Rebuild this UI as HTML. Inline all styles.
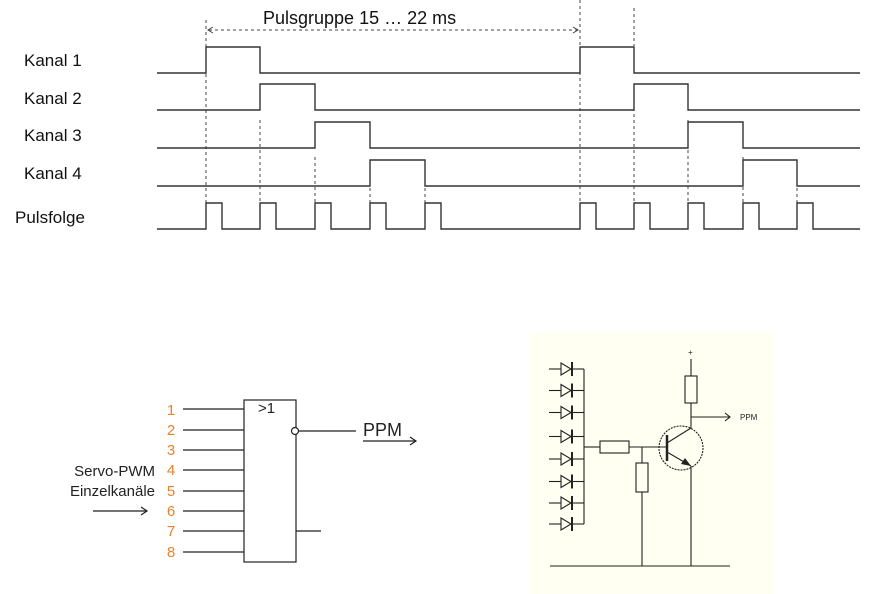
<!DOCTYPE html>
<html><head><meta charset="utf-8"><style>
html,body{margin:0;padding:0;background:#fff;width:872px;height:594px;overflow:hidden}
svg{display:block}
text{font-family:"Liberation Sans",Arial,sans-serif}
</style></head><body>
<svg width="872" height="594" viewBox="0 0 872 594" xmlns="http://www.w3.org/2000/svg">
<g fill="#111" font-size="17">
<text x="24" y="66">Kanal 1</text>
<text x="24" y="104">Kanal 2</text>
<text x="24" y="141">Kanal 3</text>
<text x="24" y="179">Kanal 4</text>
<text x="15" y="223">Pulsfolge</text>
<text x="263" y="24" font-size="18">Pulsgruppe 15 … 22 ms</text>
</g>
<g stroke="#444" stroke-width="1" stroke-dasharray="3,3" fill="none">
<line x1="209" y1="30" x2="577" y2="30"/>
<line x1="206" y1="20" x2="206" y2="203"/>
<line x1="580" y1="0" x2="580" y2="203"/>
<line x1="634" y1="8" x2="634" y2="46"/>
<line x1="634" y1="84" x2="634" y2="203"/>
<line x1="260" y1="120" x2="260" y2="203"/>
<line x1="315" y1="157" x2="315" y2="203"/>
<line x1="370" y1="188" x2="370" y2="203"/>
<line x1="425" y1="188" x2="425" y2="203"/>
<line x1="688" y1="120" x2="688" y2="203"/>
<line x1="743" y1="157" x2="743" y2="203"/>
<line x1="797" y1="188" x2="797" y2="203"/>
</g>
<g stroke="#444" fill="none" stroke-width="1">
<polyline points="213,27 208,30 213,33"/>
<polyline points="573,27 578,30 573,33"/>
</g>
<g stroke="#333" stroke-width="1.4" fill="none">
<polyline points="157,73 206,73 206,47 260,47 260,73 580,73 580,47 634,47 634,73 860,73"/>
<polyline points="157,110 260,110 260,84 315,84 315,110 634,110 634,84 688,84 688,110 860,110"/>
<polyline points="157,148 315,148 315,122 370,122 370,148 688,148 688,122 743,122 743,148 860,148"/>
<polyline points="157,186 370,186 370,160 425,160 425,186 743,186 743,160 797,160 797,186 860,186"/>
<polyline points="157,229 206,229 206,203 222,203 222,229 260,229 260,203 276,203 276,229 315,229 315,203 331,203 331,229 370,229 370,203 386,203 386,229 425,229 425,203 441,203 441,229 580,229 580,203 596,203 596,229 634,229 634,203 650,203 650,229 688,229 688,203 704,203 704,229 743,229 743,203 759,203 759,229 797,229 797,203 813,203 813,229 860,229"/>
</g>
<!-- gate -->
<g stroke="#222" stroke-width="1.2" fill="none">
<rect x="244" y="400" width="52" height="162"/>
<line x1="183" y1="409" x2="244" y2="409"/>
<line x1="183" y1="430" x2="244" y2="430"/>
<line x1="183" y1="450" x2="244" y2="450"/>
<line x1="183" y1="470" x2="244" y2="470"/>
<line x1="183" y1="491" x2="244" y2="491"/>
<line x1="183" y1="511" x2="244" y2="511"/>
<line x1="183" y1="531" x2="244" y2="531"/>
<line x1="183" y1="552" x2="244" y2="552"/>
<circle cx="295" cy="431" r="3.5" fill="#fff"/>
<line x1="299" y1="431" x2="356" y2="431"/>
<line x1="296" y1="531" x2="321" y2="531"/>
<line x1="363" y1="441" x2="416" y2="441"/>
<polyline points="410,437 416,441 410,445"/>
<line x1="93" y1="511" x2="147" y2="511"/>
<polyline points="141,507 147,511 141,515"/>
</g>
<g fill="#e8822e" font-size="15" text-anchor="middle">
<text x="171" y="415">1</text><text x="171" y="435">2</text><text x="171" y="455">3</text><text x="171" y="475">4</text>
<text x="171" y="496">5</text><text x="171" y="516">6</text><text x="171" y="536">7</text><text x="171" y="557">8</text>
</g>
<g fill="#222" font-size="15">
<text x="155" y="476" text-anchor="end">Servo-PWM</text>
<text x="155" y="496" text-anchor="end">Einzelkanäle</text>
<text x="258" y="413">&gt;1</text>
<text x="363" y="436" font-size="18">PPM</text>
</g>
<!-- circuit -->
<rect x="530" y="332" width="243" height="262" fill="#fffff2"/>
<g stroke="#222" stroke-width="1.1" fill="none">
<g id="d">
<line x1="549" y1="369" x2="561" y2="369"/>
<polygon points="561,363 561,375 571,369"/>
<line x1="572" y1="362" x2="572" y2="376" stroke-width="2"/>
<line x1="572" y1="369" x2="584" y2="369"/>
</g>
<use href="#d" y="21.5"/><use href="#d" y="43.5"/><use href="#d" y="67.5"/>
<use href="#d" y="90"/><use href="#d" y="112.5"/><use href="#d" y="134"/><use href="#d" y="155"/>
<line x1="584" y1="369" x2="584" y2="524"/>
<line x1="584" y1="447" x2="600" y2="447"/>
<rect x="600" y="441" width="29" height="12"/>
<line x1="629" y1="447" x2="667" y2="447"/>
<line x1="642" y1="447" x2="642" y2="463"/>
<rect x="636" y="463" width="12" height="29"/>
<line x1="642" y1="492" x2="642" y2="566"/>
<line x1="550" y1="566" x2="730" y2="566"/>
<circle cx="681" cy="448" r="22" stroke-dasharray="2,1"/>
<line x1="667" y1="435" x2="667" y2="461" stroke-width="2.5"/>
<line x1="667" y1="443" x2="691" y2="428"/>
<line x1="691" y1="428" x2="691" y2="403"/>
<rect x="685" y="376" width="12" height="27"/>
<line x1="691" y1="376" x2="691" y2="359"/>
<line x1="691" y1="417" x2="730" y2="417"/>
<polyline points="725,413 730,417 725,421"/>
<line x1="667" y1="452" x2="691" y2="466"/>
<line x1="691" y1="466" x2="691" y2="566"/>
</g>
<polygon points="691,466 681,464 685,458" fill="#222"/>
<text x="688" y="355" font-size="8" fill="#222">+</text>
<text x="740" y="420" font-size="8" fill="#222">PPM</text>
</svg>
</body></html>
